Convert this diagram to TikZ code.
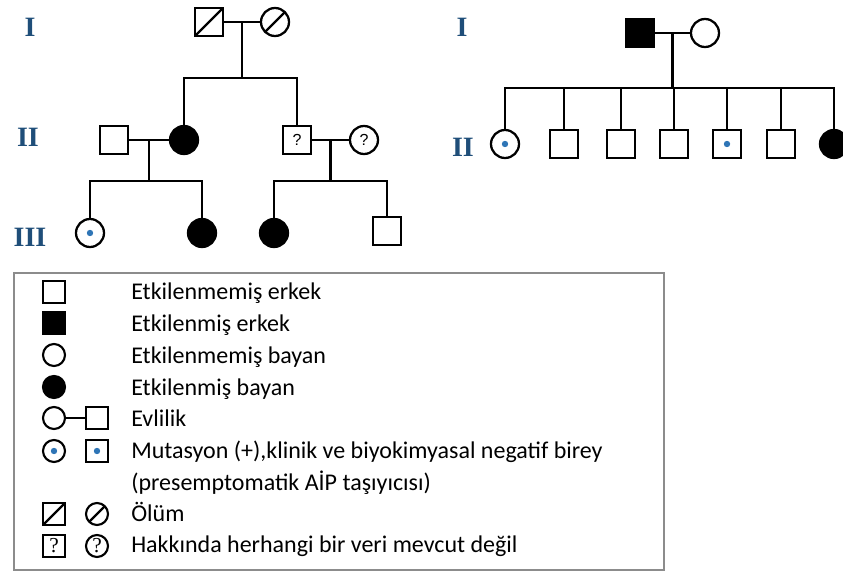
\documentclass[tikz,border=0pt]{standalone}
\usepackage{fontspec}
\setmainfont{Carlito}
\newfontfamily\romfont{Liberation Serif}
\newfontfamily\qfont{Liberation Sans}
\usetikzlibrary{calc}
\definecolor{gennum}{RGB}{31,78,121}
\definecolor{dotblue}{RGB}{46,117,182}

\tikzset{
  pers/.style={draw, line width=1.7pt, inner sep=0pt, minimum size=21pt, font=\qfont\fontsize{12}{12}\selectfont},
  male/.style={pers, rectangle},
  female/.style={pers, circle},
  affected/.style={fill=black},
  carrier/.style={path picture={\fill[dotblue] (path picture bounding box.center) circle (2.4pt);}},
  deceased/.style={path picture={\draw[line width=1.6pt] (path picture bounding box.south west) -- (path picture bounding box.north east);}},
  legsym/.style={minimum size=16.5pt, line width=1.6pt, font=\romfont\fontsize{16}{16}\selectfont},
  gen/.style={font=\romfont\bfseries\fontsize{21}{21}\selectfont, text=gennum, inner sep=0pt},
  legtext/.style={anchor=base west, inner sep=0pt, font=\fontsize{18}{22}\selectfont},
  link/.style={line width=1.6pt}
}

\begin{document}
\begin{tikzpicture}[x=0.75pt, y=-0.75pt]
  \useasboundingbox (0,0) rectangle (843,574);

  % Family on the left: generation numbers
  \node[gen] (lI) at (30,27) {I};
  \node[gen] (lII) at (28,137) {II};
  \node[gen] (lIII) at (30,237) {III};

  % Generation I
  \node[male, deceased] (lfa) at (209,22) {};
  \node[female, deceased] (lmo) at (275,22) {};
  \draw[link] (lfa) -- (lmo);
  \coordinate (lm1) at ($(lfa.east)!0.5!(lmo.west)$);
  \coordinate (ls1) at ($(lm1)+(0,56)$);

  % Generation II
  \node[male] (lhu) at (114,140) {};
  \node[female, affected] (lda) at (184,140) {};
  \node[male] (lso) at (297,140) {?};
  \node[female] (lwi) at (364,140) {?};
  \draw[link] (lm1) -- (ls1);
  \draw[link] (lda.north) |- (ls1) -| (lso.north);
  \draw[link] (lhu) -- (lda);
  \draw[link] (lso) -- (lwi);
  \coordinate (lm2) at ($(lhu.east)!0.5!(lda.west)$);
  \coordinate (ls2) at ($(lm2)+(0,41)$);
  \coordinate (lm3) at ($(lso.east)!0.5!(lwi.west)$);
  \coordinate (ls3) at ($(lm3)+(0,41)$);

  % Generation III
  \node[female, carrier] (lg1) at (90,233) {};
  \node[female, affected] (lg2) at (202,233) {};
  \node[female, affected] (lg3) at (274,233) {};
  \node[male] (lg4) at (387,231) {};
  \draw[link] (lm2) -- (ls2);
  \draw[link] (lg1.north) |- (ls2) -| (lg2.north);
  \draw[link] (lm3) -- (ls3);
  \draw[link] (lg3.north) |- (ls3) -| (lg4.north);

  % Family on the right
  \node[gen] (rI) at (462,27) {I};
  \node[gen] (rII) at (463,147) {II};
  \node[male, affected] (rfa) at (640,33) {};
  \node[female] (rmo) at (705,33) {};
  \draw[link] (rfa) -- (rmo);
  \coordinate (rm1) at ($(rfa.east)!0.5!(rmo.west)$);
  \coordinate (rs1) at ($(rm1)+(0,55)$);
  \draw[link] (rm1) -- (rs1);

  \node[female, carrier] (rc1) at (505,144) {};
  \node[male] (rc2) at (564,144) {};
  \node[male] (rc3) at (621,144) {};
  \node[male] (rc4) at (674,144) {};
  \node[male, carrier] (rc5) at (727,144) {};
  \node[male] (rc6) at (781,144) {};
  \node[female, affected] (rc7) at (834,144) {};
  \draw[link] (rc1.north) |- (rs1) -| (rc7.north);
  \foreach \c in {rc2,rc3,rc4,rc5,rc6}
    \draw[link] (\c.north) -- (\c.north |- rs1);

  % Legend
  \draw[black!45, line width=1.1pt] (14,273) rectangle (664,570);

  \node[male, legsym] (k1) at (54,292) {};
  \node[legtext] (t1) at (131,300) {Etkilenmemiş erkek};
  \node[male, legsym, affected] (k2) at (54,323) {};
  \node[legtext] (t2) at (131,331) {Etkilenmiş erkek};
  \node[female, legsym] (k3) at (54,355) {};
  \node[legtext] (t3) at (131,363) {Etkilenmemiş bayan};
  \node[female, legsym, affected] (k4) at (54,387) {};
  \node[legtext] (t4) at (131,395) {Etkilenmiş bayan};
  \node[female, legsym] (k5a) at (54,418) {};
  \node[male, legsym] (k5b) at (97,418) {};
  \draw[link] (k5a) -- (k5b);
  \node[legtext] (t5) at (131,426) {Evlilik};
  \node[female, legsym, carrier] (k6a) at (54,451) {};
  \node[male, legsym, carrier] (k6b) at (97,451) {};
  \node[legtext] (t6) at (131,458) {Mutasyon (+),klinik ve biyokimyasal negatif birey};
  \node[legtext] (t7) at (131,490) {(presemptomatik AİP taşıyıcısı)};
  \node[male, legsym, deceased] (k8a) at (54,514) {};
  \node[female, legsym, deceased] (k8b) at (97,514) {};
  \node[legtext] (t8) at (131,521) {Ölüm};
  \node[male, legsym] (k9a) at (54,546) {?};
  \node[female, legsym] (k9b) at (97,546) {?};
  \node[legtext] (t9) at (131,552) {Hakkında herhangi bir veri mevcut değil};
\end{tikzpicture}
\end{document}
